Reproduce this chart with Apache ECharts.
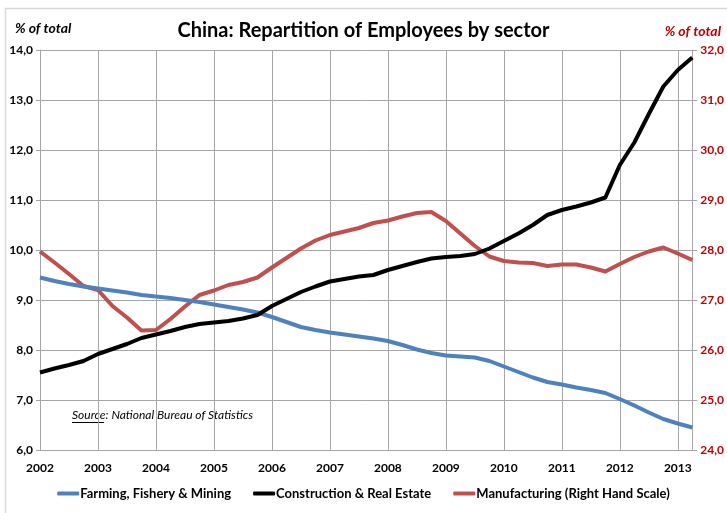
<!DOCTYPE html>
<html>
<head>
<meta charset="utf-8">
<title>China: Repartition of Employees by sector</title>
<script src="https://cdn.jsdelivr.net/npm/echarts@6/dist/echarts.min.js"></script>
<style>
  html, body { margin: 0; padding: 0; background: #fff; }
  #chart { width: 727px; height: 513px; }
</style>
</head>
<body>
<div id="chart"></div>
<script>
// Quarterly observations, Q1 2002 through Q2 2013 (share of total employment, %)
const startYear = 2002;
const yearTicks = [2002, 2003, 2004, 2005, 2006, 2007, 2008, 2009, 2010, 2011, 2012, 2013];

const farming = [
  9.45, 9.38, 9.32, 9.27, 9.23, 9.19, 9.15, 9.10, 9.07, 9.04, 9.00, 8.96,
  8.91, 8.86, 8.81, 8.75, 8.66, 8.56, 8.46, 8.40, 8.35, 8.31, 8.27, 8.23,
  8.18, 8.10, 8.01, 7.94, 7.89, 7.87, 7.85, 7.78, 7.67, 7.56, 7.45, 7.36,
  7.31, 7.25, 7.20, 7.14, 7.02, 6.89, 6.75, 6.62, 6.53, 6.45
];

const construction = [
  7.55, 7.63, 7.70, 7.78, 7.92, 8.02, 8.12, 8.24, 8.31, 8.38, 8.46, 8.52,
  8.55, 8.58, 8.63, 8.70, 8.88, 9.02, 9.16, 9.27, 9.37, 9.42, 9.47, 9.50,
  9.60, 9.68, 9.76, 9.83, 9.86, 9.88, 9.92, 10.03, 10.18, 10.33, 10.50, 10.70,
  10.80, 10.87, 10.95, 11.05, 11.70, 12.15, 12.72, 13.27, 13.60, 13.85
];

const manufacturing = [
  27.97, 27.75, 27.52, 27.28, 27.20, 26.88, 26.65, 26.39, 26.40, 26.62, 26.87, 27.10,
  27.19, 27.30, 27.36, 27.45, 27.65, 27.84, 28.03, 28.19, 28.30, 28.37, 28.44, 28.54,
  28.59, 28.67, 28.74, 28.76, 28.58, 28.33, 28.08, 27.87, 27.78, 27.75, 27.74, 27.68,
  27.71, 27.71, 27.65, 27.57, 27.72, 27.86, 27.97, 28.05, 27.93, 27.80
];

// Pair each quarterly value with its position on the time axis
function toPoints(values) {
  return values.map((v, i) => [startYear + i / 4, v]);
}

const commaFmt = v => v.toFixed(1).replace('.', ',');
const FONT = 'Lato, "Open Sans", sans-serif';
const GRID_COLOR = '#a6a6a6';

const chart = echarts.init(document.getElementById('chart'), null, { renderer: 'canvas' });

chart.setOption({
  animation: false,
  backgroundColor: '#fff',
  textStyle: { fontFamily: FONT },
  title: {
    text: 'China: Repartition of Employees by sector',
    left: 'center',
    top: 16,
    textStyle: { fontFamily: FONT, fontSize: 20, fontWeight: 'bold', color: '#000' }
  },
  grid: { left: 40, right: 34, top: 50, bottom: 63, containLabel: false },
  legend: {
    bottom: 8,
    left: 'center',
    itemGap: 22,
    itemWidth: 22,
    itemHeight: 4,
    icon: 'roundRect',
    textStyle: { fontFamily: FONT, fontSize: 13, fontWeight: 'bold', color: '#000', padding: [0, 0, 0, -4] },
    data: ['Farming, Fishery & Mining', 'Construction & Real Estate', 'Manufacturing (Right Hand Scale)']
  },
  xAxis: {
    type: 'value',
    min: 2002,
    max: 2013.25,
    interval: 1,
    axisLine: { show: true, lineStyle: { color: GRID_COLOR, width: 1 } },
    axisTick: { show: false },
    splitLine: { show: true, lineStyle: { color: GRID_COLOR, width: 1 } },
    axisLabel: {
      showMaxLabel: false,
      margin: 12,
      fontFamily: FONT,
      fontSize: 12,
      fontWeight: 'bold',
      color: '#000',
      formatter: v => (yearTicks.includes(Math.round(v)) ? String(Math.round(v)) : '')
    }
  },
  yAxis: [
    {
      type: 'value',
      min: 6,
      max: 14,
      interval: 1,
      position: 'left',
      axisLine: { show: true, lineStyle: { color: GRID_COLOR, width: 1 } },
      axisTick: { show: true, inside: false, length: 4, lineStyle: { color: GRID_COLOR } },
      splitLine: { show: true, lineStyle: { color: GRID_COLOR, width: 1 } },
      axisLabel: {
        margin: 7,
        fontFamily: FONT,
        fontSize: 12,
        fontWeight: 'bold',
        color: '#000',
        formatter: commaFmt
      }
    },
    {
      type: 'value',
      min: 24,
      max: 32,
      interval: 1,
      position: 'right',
      axisLine: { show: true, lineStyle: { color: GRID_COLOR, width: 1 } },
      axisTick: { show: true, inside: false, length: 5, lineStyle: { color: GRID_COLOR } },
      splitLine: { show: false },
      axisLabel: {
        margin: 8,
        fontFamily: FONT,
        fontSize: 12,
        fontWeight: 'bold',
        color: '#c00000',
        formatter: commaFmt
      }
    }
  ],
  series: [
    {
      name: 'Farming, Fishery & Mining',
      type: 'line',
      yAxisIndex: 0,
      data: toPoints(farming),
      showSymbol: false,
      symbol: 'none',
      color: '#4f81bd',
      lineStyle: { width: 4, color: '#4f81bd', join: 'round' }
    },
    {
      name: 'Construction & Real Estate',
      type: 'line',
      yAxisIndex: 0,
      data: toPoints(construction),
      showSymbol: false,
      symbol: 'none',
      color: '#000000',
      lineStyle: { width: 4, color: '#000000', join: 'round' }
    },
    {
      name: 'Manufacturing (Right Hand Scale)',
      type: 'line',
      yAxisIndex: 1,
      data: toPoints(manufacturing),
      showSymbol: false,
      symbol: 'none',
      color: '#c0504d',
      lineStyle: { width: 4, color: '#c0504d', join: 'round' },
      z: 1
    }
  ],
  graphic: [
    // light frame around the chart area
    {
      type: 'rect',
      silent: true,
      z: -10,
      shape: { x: 5.5, y: 8.5, width: 760, height: 520 },
      style: { fill: 'none', stroke: '#d9d9d9', lineWidth: 1.5 }
    },
    {
      type: 'text',
      left: 15,
      top: 21,
      style: {
        text: '% of total',
        font: 'italic bold 14px ' + FONT,
        fill: '#000'
      }
    },
    {
      type: 'text',
      right: 6,
      top: 24,
      style: {
        text: '% of total',
        font: 'italic bold 14px ' + FONT,
        fill: '#c00000'
      }
    },
    {
      type: 'text',
      left: 72,
      top: 409,
      style: {
        text: 'Source: National Bureau of Statistics',
        font: 'italic 12px ' + FONT,
        fill: '#000'
      }
    },
    // underline beneath the word "Source"
    {
      type: 'line',
      shape: { x1: 72, y1: 422.5, x2: 104, y2: 422.5 },
      style: { stroke: '#000', lineWidth: 1 }
    }
  ]
});
</script>
</body>
</html>
